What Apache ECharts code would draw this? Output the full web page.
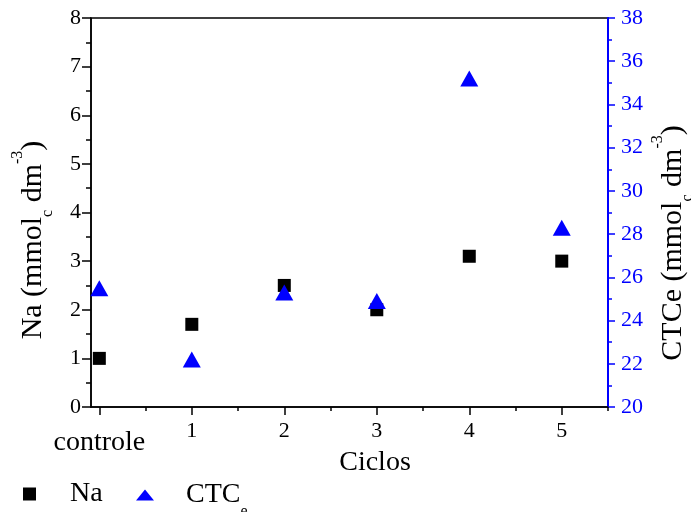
<!DOCTYPE html>
<html>
<head>
<meta charset="utf-8">
<script src="https://cdn.jsdelivr.net/npm/echarts@6/dist/echarts.min.js"></script>
<style>
html,body{margin:0;padding:0;background:#fff;}
#chart{width:691px;height:512px;}
</style>
</head>
<body>
<div id="chart"></div>
<script>
const cycles = [0, 1, 2, 3, 4, 5];
const cycleLabels = ['controle', '1', '2', '3', '4', '5'];
const xMinorTicks = [0.5, 1.5, 2.5, 3.5, 4.5, 5.5];
const naValues = [1.0, 1.7, 2.5, 2.0, 3.1, 3.0];
const ctcValues = [25.5, 22.2, 25.3, 24.9, 35.2, 28.3];

const FONT = 'Liberation Serif';
const BLUE = '#0000ff';

const chart = echarts.init(document.getElementById('chart'), null, {renderer: 'canvas'});

const titleRich = (color) => ({
  m: {fontFamily: FONT, fontSize: 30, lineHeight: 46, color: color, verticalAlign: 'middle'},
  s: {fontFamily: FONT, fontSize: 16, lineHeight: 16, color: color, verticalAlign: 'bottom'},
  p: {fontFamily: FONT, fontSize: 16, lineHeight: 16, color: color, verticalAlign: 'top'}
});

const option = {
  backgroundColor: '#fff',
  animation: false,
  grid: {left: 91, right: 83, top: 18, bottom: 105, show: true, borderColor: '#000', borderWidth: 1.5, backgroundColor: 'transparent'},
  xAxis: [{
    type: 'value', min: -0.09, max: 5.5, position: 'bottom',
    axisLine: {show: true, onZero: false, lineStyle: {color: '#000', width: 1.5}},
    axisTick: {show: true, inside: false, length: 8, customValues: cycles, lineStyle: {color: '#000', width: 1.5}},
    axisLabel: {
      show: true, margin: 13, color: '#000', fontFamily: FONT, fontSize: 22,
      customValues: cycles,
      formatter: function (v) {
        const i = cycles.indexOf(Math.round(v));
        const t = cycleLabels[i];
        return i === 0 ? '{c|' + t + '}' : t;
      },
      rich: {c: {fontFamily: FONT, fontSize: 28, color: '#000', padding: [9, 0, 0, 0]}}
    },
    splitLine: {show: false}
  }, {
    type: 'value', min: -0.09, max: 5.5, position: 'bottom',
    axisLine: {show: false},
    axisTick: {show: true, inside: false, length: 4, customValues: xMinorTicks, lineStyle: {color: '#000', width: 1.5}},
    axisLabel: {show: false},
    splitLine: {show: false}
  }],
  yAxis: [{
    type: 'value', min: 0, max: 8, interval: 1, position: 'left',
    axisLine: {show: true, onZero: false, lineStyle: {color: '#000', width: 1.5}},
    axisTick: {show: true, inside: false, length: 9, lineStyle: {color: '#000', width: 1.5}},
    minorTick: {show: true, splitNumber: 2, length: 5, lineStyle: {color: '#000', width: 1.5}},
    axisLabel: {margin: 10, color: '#000', fontFamily: FONT, fontSize: 22},
    splitLine: {show: false}
  }, {
    type: 'value', min: 20, max: 38, interval: 2, position: 'right',
    axisLine: {show: true, onZero: false, lineStyle: {color: BLUE, width: 2}},
    axisTick: {show: true, inside: false, length: 7, lineStyle: {color: BLUE, width: 1.5}},
    minorTick: {show: true, splitNumber: 2, length: 4, lineStyle: {color: BLUE, width: 1.5}},
    axisLabel: {margin: 13, color: BLUE, fontFamily: FONT, fontSize: 22},
    splitLine: {show: false}
  }],
  legend: [{
    data: ['Na'], left: 23, top: 480, padding: 0,
    itemWidth: 13, itemHeight: 13, icon: 'rect',
    itemStyle: {opacity: 1},
    textStyle: {fontFamily: FONT, fontSize: 28, lineHeight: 28, color: '#000', padding: [0, 0, 0, 29]}
  }, {
    data: ['CTCe'], left: 136, top: 481, padding: 0,
    itemWidth: 18, itemHeight: 11, icon: 'triangle',
    itemStyle: {opacity: 1},
    formatter: function () { return '{a|CTC}{b|e}'; },
    textStyle: {
      fontFamily: FONT, fontSize: 28, color: '#000', padding: [0, 0, 0, 27],
      rich: {
        a: {fontFamily: FONT, fontSize: 28, lineHeight: 50, color: '#000', verticalAlign: 'middle'},
        b: {fontFamily: FONT, fontSize: 16, lineHeight: 16, color: '#000', verticalAlign: 'bottom'}
      }
    }
  }],
  graphic: [{
    type: 'text', x: 33, y: 240, rotation: Math.PI / 2,
    style: {
      text: '{m|Na (mmol}{s|c}{m| dm}{p|-3}{m|)}',
      rich: titleRich('#000'), align: 'center', verticalAlign: 'middle'
    }
  }, {
    type: 'text', x: 673, y: 243, rotation: Math.PI / 2,
    style: {
      text: '{m|CTCe (mmol}{s|c}{m| dm}{p|-3}{m|)}',
      rich: titleRich(BLUE), align: 'center', verticalAlign: 'middle'
    }
  }, {
    type: 'text', x: 375, y: 463,
    style: {text: 'Ciclos', fontFamily: FONT, fontSize: 28, fill: '#000', align: 'center', verticalAlign: 'middle'}
  }],
  series: [{
    name: 'Na', type: 'scatter', xAxisIndex: 0, yAxisIndex: 0,
    symbol: 'rect', symbolSize: 13,
    itemStyle: {color: '#000', opacity: 1},
    data: cycles.map((c, i) => [c, naValues[i]]),
    z: 3
  }, {
    name: 'CTCe', type: 'scatter', xAxisIndex: 0, yAxisIndex: 1,
    symbol: 'triangle', symbolSize: [18, 16],
    itemStyle: {color: BLUE, opacity: 1},
    data: cycles.map((c, i) => [c, ctcValues[i]]),
    z: 4
  }]
};
chart.setOption(option);
</script>
</body>
</html>
